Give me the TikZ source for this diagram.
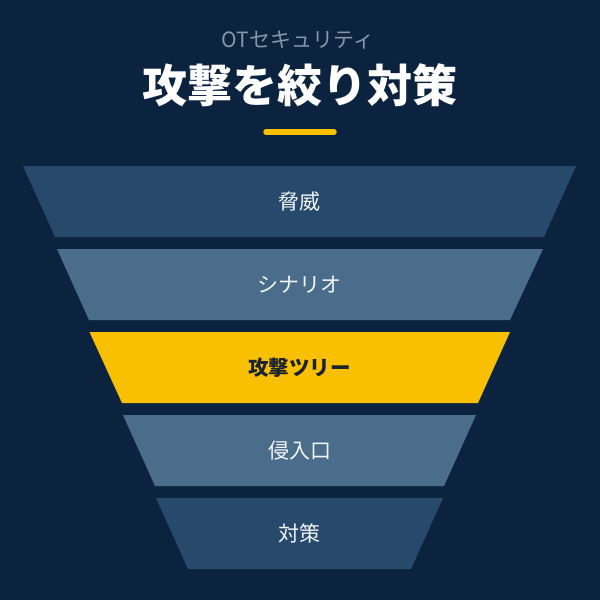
\documentclass[tikz,border=0pt]{standalone}
\usepackage{fontspec}
\newfontfamily\cjk{Noto Sans CJK JP}
\definecolor{bgc}{HTML}{0C2340}
\definecolor{bandA}{HTML}{27496B}
\definecolor{bandB}{HTML}{4B6D8C}
\definecolor{gold}{HTML}{F8C000}
\definecolor{subgray}{HTML}{8697AB}
\definecolor{darktxt}{HTML}{1A2230}
\definecolor{lbltxt}{HTML}{F2F5F8}
\begin{document}
\begin{tikzpicture}[x=1pt,y=-1pt,
  lbl/.style={font=\cjk\fontsize{21}{21}\selectfont, text=lbltxt, inner sep=0pt},
  lblbold/.style={font=\cjk\bfseries\fontsize{20.5}{20.5}\selectfont, text=darktxt, inner sep=0pt}]
\fill[bgc] (0,0) rectangle (600,600);
\useasboundingbox (0,0) rectangle (600,600);
% title
\node[font=\cjk\fontsize{21}{21}\selectfont, text=subgray, inner sep=0pt] (sub) at (298,40) {OTセキュリティ};
\node[font=\cjk\bfseries\fontsize{45}{45}\selectfont, text=white, inner sep=0pt] (title) at (300,85) {攻撃を絞り対策};
\coordinate (barL) at (266,132);
\coordinate (barR) at (334,132);
\draw[gold, line width=5.5pt, line cap=round] (barL) -- (barR);
% bands
\fill[bandA] (23,166) -- (576,166) -- (544,237) -- (55,237) -- cycle;
\fill[bandB] (57,249) -- (543,249) -- (510,320) -- (89,320) -- cycle;
\fill[gold]  (89.5,332) -- (510,332) -- (478,403) -- (122,403) -- cycle;
\fill[bandB] (123,415) -- (476,415) -- (444,486) -- (155,486) -- cycle;
\fill[bandA] (156,498) -- (443,498) -- (411,569) -- (188,569) -- cycle;
\node[lbl] (b1) at (299.5,201.5) {脅威};
\node[lbl] (b2) at (299.5,284.5) {シナリオ};
\node[lblbold] (b3) at (299.5,367.5) {攻撃ツリー};
\node[lbl] (b4) at (299.5,450.5) {侵入口};
\node[lbl] (b5) at (299.5,533.5) {対策};
\end{tikzpicture}
\end{document}
